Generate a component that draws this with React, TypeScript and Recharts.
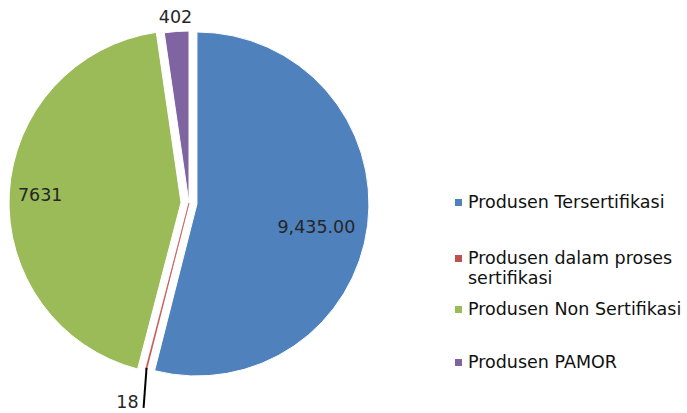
import React from 'react';
import { PieChart, Pie, Cell, Sector } from 'recharts';

const categories = [
  'Produsen Tersertifikasi',
  'Produsen dalam proses sertifikasi',
  'Produsen Non Sertifikasi',
  'Produsen PAMOR',
];
const values = [9435, 18, 7631, 402];
const valueLabels = ['9,435.00', '18', '7631', '402'];
const colors = ['#4F81BD', '#C0504D', '#9BBB59', '#8064A2'];

// style config
const explode = [8, 0, 8, 0];
const labelRadiusFactor = [0.7, 1.2, 0.82, 1.087];
const labelDy = [8, 0, 0, 0];
const FONT = '"DejaVu Sans", Verdana, sans-serif';
const RAD = Math.PI / 180;

const data = categories.map((name, i) => ({ name, value: values[i], label: valueLabels[i] }));

const offsetOf = (i: number, midAngle: number) => {
  const d = explode[i] || 0;
  return { dx: d * Math.cos(-midAngle * RAD), dy: d * Math.sin(-midAngle * RAD) };
};

const SliceShape = (props: any) => {
  const { midAngle, index } = props;
  const { dx, dy } = offsetOf(index, midAngle);
  return (
    <g transform={`translate(${dx},${dy})`}>
      <Sector {...props} />
    </g>
  );
};

const renderLabel = (props: any) => {
  const { cx, cy, midAngle, outerRadius, index } = props;
  const { dx, dy } = offsetOf(index, midAngle);
  const cos = Math.cos(-midAngle * RAD);
  const sin = Math.sin(-midAngle * RAD);
  const ox = cx + dx;
  const oy = cy + dy;
  if (index === 1) {
    const sx = ox + outerRadius * 0.99 * cos;
    const sy = oy + outerRadius * 0.99 * sin;
    const ex = sx - 3;
    const ey = sy + 40;
    return (
      <g>
        <line x1={sx} y1={sy} x2={ex} y2={ey} stroke="#000" strokeWidth={2} />
        <text x={ex - 5} y={ey - 6} textAnchor="end" dominantBaseline="central" fill="#262626" fontSize={17.5} fontFamily={FONT}>
          {data[index].label}
        </text>
      </g>
    );
  }
  const r = outerRadius * labelRadiusFactor[index];
  const x = ox + r * cos;
  const y = oy + r * sin + labelDy[index];
  return (
    <text x={x} y={y} textAnchor="middle" dominantBaseline="central" fill="#262626" fontSize={17.5} fontFamily={FONT}>
      {data[index].label}
    </text>
  );
};

const legendTops = [192, 248, 299, 352];

const Legend = () => (
  <div style={{ position: 'absolute', left: 452, top: 0, width: 280, fontFamily: FONT, fontSize: 17.5, color: '#111' }}>
    {categories.map((c, i) => (
      <div key={c} style={{ position: 'absolute', top: legendTops[i], left: 0, width: 275, display: 'flex', alignItems: 'flex-start', lineHeight: '20px' }}>
        <span style={{ display: 'inline-block', width: 7, height: 7, background: colors[i], marginTop: 7, marginRight: 6, marginLeft: 3, flexShrink: 0 }} />
        <span style={{ width: 245 }}>{c}</span>
      </div>
    ))}
  </div>
);

export default function App() {
  return (
    <div style={{ position: 'absolute', left: 0, top: 0, width: 687, height: 413, background: '#fff', overflow: 'hidden' }}>
      <PieChart width={687} height={413} margin={{ top: 0, right: 0, bottom: 0, left: 0 }}>
        <Pie
          data={data}
          dataKey="value"
          nameKey="name"
          cx={189}
          cy={203}
          outerRadius={172}
          startAngle={90}
          endAngle={-270}
          stroke="#fff"
          strokeWidth={1}
          label={renderLabel}
          labelLine={false}
          shape={SliceShape}
          isAnimationActive={false}
        >
          {data.map((d, i) => (
            <Cell
              key={d.name}
              fill={colors[i]}
              stroke={i === 1 ? colors[i] : '#fff'}
              strokeWidth={i === 1 ? 0.6 : 1}
            />
          ))}
        </Pie>
      </PieChart>
      <Legend />
    </div>
  );
}
